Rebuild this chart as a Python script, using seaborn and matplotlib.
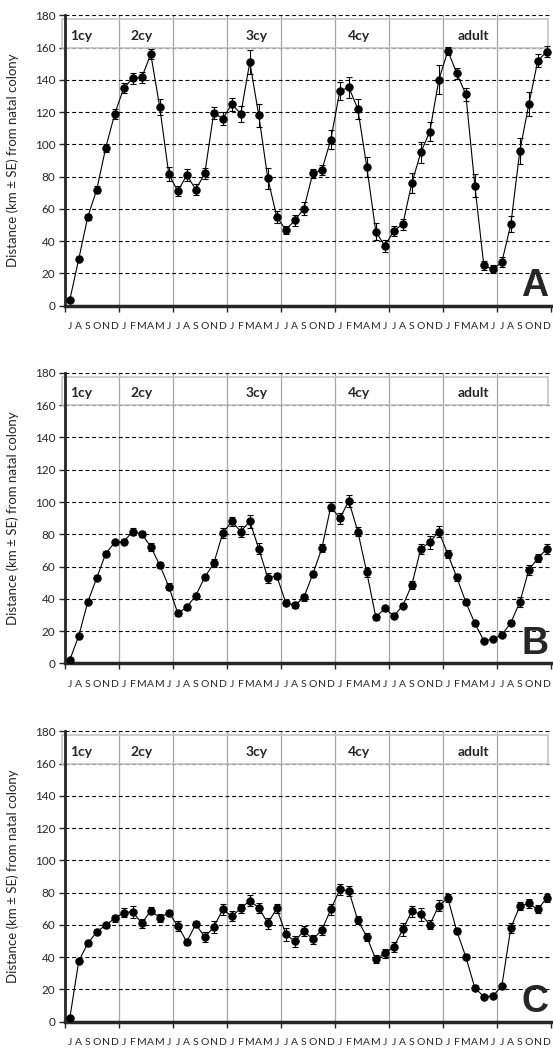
import numpy as np
import pandas as pd
import seaborn as sns
import matplotlib.pyplot as plt
from matplotlib.patches import Rectangle

# month labels: Jul-Dec of the first year, then four full years
first_year = ['J', 'A', 'S', 'O', 'N', 'D']
full_year = ['J', 'F', 'M', 'A', 'M', 'J', 'J', 'A', 'S', 'O', 'N', 'D']
months = first_year + full_year * 4

cycles = ['1cy', '2cy', '3cy', '4cy', 'adult']
cycle_pos = [0.0, 6.7, 19.5, 30.9, 43.1]

# Panel A: mean distance (km) and SE
dist_a = [3.5, 29, 55, 72, 98, 119,
          135, 141, 141.5, 156, 123, 81.6, 71, 81, 72, 82, 119.5, 116,
          125, 119, 151, 118, 79, 55, 47, 53, 60, 82, 84, 103,
          133, 135.5, 122, 86, 46, 37, 46.5, 50.5, 76, 95, 108, 140,
          158, 144, 131, 74.5, 25, 22.5, 27, 50.5, 96, 125, 152, 157.5]
se_a = [1.0, 1.5, 2, 2, 2.5, 3,
        3, 3.5, 3.5, 3, 5, 4.5, 3, 3.5, 3.5, 3.5, 3.5, 4,
        4, 5, 7.5, 7, 6.5, 3.5, 2.5, 3.5, 4, 3, 3, 6,
        5.5, 6.5, 6, 6.5, 5, 3.5, 3, 3.5, 6, 6.5, 6, 9,
        2.5, 3.5, 4, 7, 3, 2.5, 3, 5, 8, 7.5, 4, 3.5]

# Panel B
dist_b = [2, 17, 38, 53, 68, 75,
          75.5, 81.7, 80.2, 72.3, 60.8, 47.6, 31, 34.8, 42, 53.4, 62, 80.7,
          88, 81.7, 88, 71, 53, 54, 37.6, 36, 40.8, 55.3, 71.2, 97.2,
          89.8, 100.6, 81.7, 56.3, 28.6, 34, 29.4, 35.8, 48.6, 71, 75.1, 81.7,
          67.6, 53.2, 37.9, 24.8, 14, 14.9, 17.6, 25.2, 37.9, 57.9, 65.2, 71]
se_b = [0.8, 1.2, 1.5, 1.5, 1.5, 1.5,
        1.5, 2, 2, 2.5, 2, 2, 1.5, 1.5, 1.5, 1.5, 2.5, 3,
        3, 3.5, 4, 3.5, 3, 2, 1.5, 2, 2, 2, 2.5, 3,
        3.5, 4, 3, 3, 1.5, 1.5, 1.5, 1.5, 2.5, 3, 4, 3.5,
        2.5, 2, 1.5, 1.5, 1, 1, 1, 1.5, 3, 3, 2.5, 3]

# Panel C
dist_c = [2, 37.6, 48.5, 55.7, 59.9, 64,
          67.7, 68.1, 60.9, 68.9, 64.4, 67.5, 59.5, 49.5, 60.5, 52.4, 58.8, 69.6,
          65.4, 70.2, 75.1, 70.6, 61.1, 70.2, 54.3, 49.8, 56.4, 51, 56.8, 69.6,
          82, 81, 63, 52.6, 38.6, 42.3, 46.4, 57.2, 68.5, 66.6, 60.2, 72,
          76.6, 56.1, 40.2, 21, 15.5, 15.9, 22.1, 58.2, 71.8, 73.3, 69.6, 76.8]
se_c = [0.8, 1.5, 1.5, 1.5, 1.5, 2,
        3, 3.5, 3, 2, 2.5, 2, 3, 2, 2, 3, 3.5, 3.5,
        3, 3, 3.5, 3, 3.5, 3, 4, 3.5, 3, 3, 3, 3.5,
        3.5, 3, 2.5, 2.5, 2.5, 3, 3, 4, 3.5, 4, 3, 3.5,
        2.5, 2, 1.5, 1.5, 1, 1, 1.5, 3, 2.5, 2.5, 2.5, 2.5]

panels = ['A', 'B', 'C']
dists = [dist_a, dist_b, dist_c]
ses = [se_a, se_b, se_c]

sns.set_style('ticks')
plt.rcParams['font.family'] = ['Lato', 'DejaVu Sans']

fig = plt.figure(figsize=(5.53, 10.48), dpi=100)
bottoms = [0.7083, 0.3671, 0.0251]

n = len(months)
x = np.arange(n)
boundaries = np.arange(6, n + 1, 6) - 0.5

for name, dist, se, bottom in zip(panels, dists, ses, bottoms):
    ax = fig.add_axes([0.118, bottom, 0.879, 0.277])
    df = pd.DataFrame({'month': x, 'dist': dist, 'se': se})

    # year separators + dashed horizontal grid
    for b in boundaries[:-1]:
        ax.axvline(b, color='#a6a6a6', lw=0.9, zorder=0)
    for yv in range(20, 181, 20):
        ax.axhline(yv, color='black', lw=0.8, ls=(0, (3.5, 2.5)), zorder=0)

    ax.errorbar(df['month'], df['dist'], yerr=df['se'], fmt='none',
                ecolor='black', elinewidth=0.8, capsize=2, capthick=0.8, zorder=2)
    sns.lineplot(data=df, x='month', y='dist', color='black', lw=0.8,
                 marker='o', markersize=5.3, markeredgecolor='black',
                 markerfacecolor='black', ax=ax, zorder=3)

    ax.set_xlim(-0.5, n - 0.5)
    ax.set_ylim(0, 180)
    ax.set_yticks(range(0, 181, 20))
    ax.set_xticks(np.concatenate([[-0.5], boundaries]))
    ax.set_xticklabels([])
    ax.set_xticks(x, minor=True)
    ax.set_xticklabels(months, minor=True, fontsize=7.5)
    ax.tick_params(axis='x', which='major', length=4, width=1, direction='out')
    ax.tick_params(axis='x', which='minor', length=0, pad=12)
    ax.tick_params(axis='y', length=4, width=1, labelsize=8.5, pad=3)
    ax.set_xlabel('')
    ax.set_ylabel('Distance (km ± SE) from natal colony', fontsize=9.5)
    ax.yaxis.set_label_coords(-0.095, 0.5)

    sns.despine(ax=ax)
    ax.spines['left'].set_linewidth(2)
    ax.spines['bottom'].set_linewidth(2.5)

    # age-class box
    ax.add_patch(Rectangle((-0.87, 160), 54.04, 17.5, fill=False,
                           edgecolor='#c4c4c4', lw=1.2, clip_on=False, zorder=1))
    for lab, pos in zip(cycles, cycle_pos):
        ax.text(pos, 167.5, lab, fontsize=10, fontweight='bold',
                ha='left', va='center')

    ax.text(53.2, 1, name, fontsize=27, fontweight='bold', ha='right',
            va='bottom', family='Liberation Sans')

fig.savefig('out.png', dpi=100)
